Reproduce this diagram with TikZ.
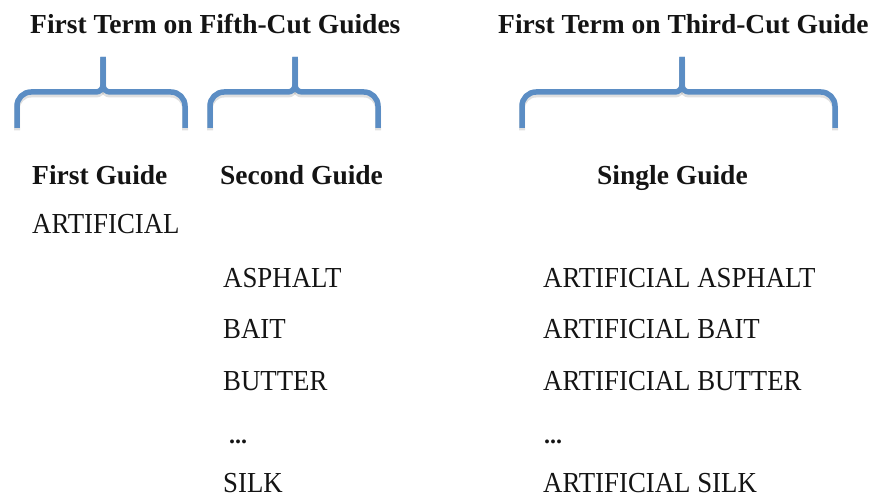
\documentclass[tikz,border=0pt]{standalone}
\usepackage{fontspec}
\setmainfont{Liberation Serif}
\begin{document}
\begin{tikzpicture}[x=1pt,y=-1pt,
  headtext/.style={anchor=base west,inner sep=0pt,text=black!92,
    font=\fontsize{27.5}{30}\selectfont\bfseries},
  termtext/.style={anchor=base west,inner sep=0pt,text=black!92,
    font=\fontsize{29}{32}\selectfont},
  bracepen/.style={draw={rgb,255:red,91;green,141;blue,196},line width=5.5pt},
  braceshade/.style={draw=black,opacity=0.12,line width=6pt}]
\useasboundingbox (0,0) rectangle (871,497);

% curly brace: left leg x, tip x, right leg x
\newcommand{\guidebrace}[3]{%
  \foreach \sty/\dy in {braceshade/2.5,bracepen/0}{%
    \draw[\sty,yshift=-\dy pt]
      (#1,128) [rounded corners=14pt] -- (#1,92) [rounded corners=7pt] -- (#2,92) [sharp corners] -- (#2,57);
    \draw[\sty,yshift=-\dy pt]
      (#2,57) [rounded corners=7pt] -- (#2,92) [rounded corners=14pt] -- (#3,92) [sharp corners] -- (#3,128);
  }}

\guidebrace{17}{103}{185}
\guidebrace{210}{295}{378}
\guidebrace{522}{682}{835}

% group titles
\node[headtext] (fifth) at (30,34) {First Term on Fifth-Cut Guides};
\node[headtext] (third) at (498,34) {First Term on Third-Cut Guide};

% column headings
\node[headtext] (g1) at (32,185) {First Guide};
\node[headtext] (g2) at (220,185) {Second Guide};
\node[headtext] (g3) at (597,185) {Single Guide};

% terms
\node[termtext] (t0) at (32,234) {\scalebox{0.925}[1]{ARTIFICIAL}};

\node[termtext] (a1) at (223,288) {\scalebox{0.925}[1]{ASPHALT}};
\node[termtext] (a2) at (223,339) {\scalebox{0.925}[1]{BAIT}};
\node[termtext] (a3) at (223,390) {\scalebox{0.925}[1]{BUTTER}};
\node[termtext] (a4) at (229,443) {\fontsize{24}{26}\selectfont\bfseries ...};
\node[termtext] (a5) at (223,492) {\scalebox{0.925}[1]{SILK}};

\node[termtext] (b1) at (543,288) {\scalebox{0.925}[1]{ARTIFICIAL ASPHALT}};
\node[termtext] (b2) at (543,339) {\scalebox{0.925}[1]{ARTIFICIAL BAIT}};
\node[termtext] (b3) at (543,390) {\scalebox{0.925}[1]{ARTIFICIAL BUTTER}};
\node[termtext] (b4) at (544,443) {\fontsize{24}{26}\selectfont\bfseries ...};
\node[termtext] (b5) at (543,492) {\scalebox{0.925}[1]{ARTIFICIAL SILK}};
\end{tikzpicture}
\end{document}
